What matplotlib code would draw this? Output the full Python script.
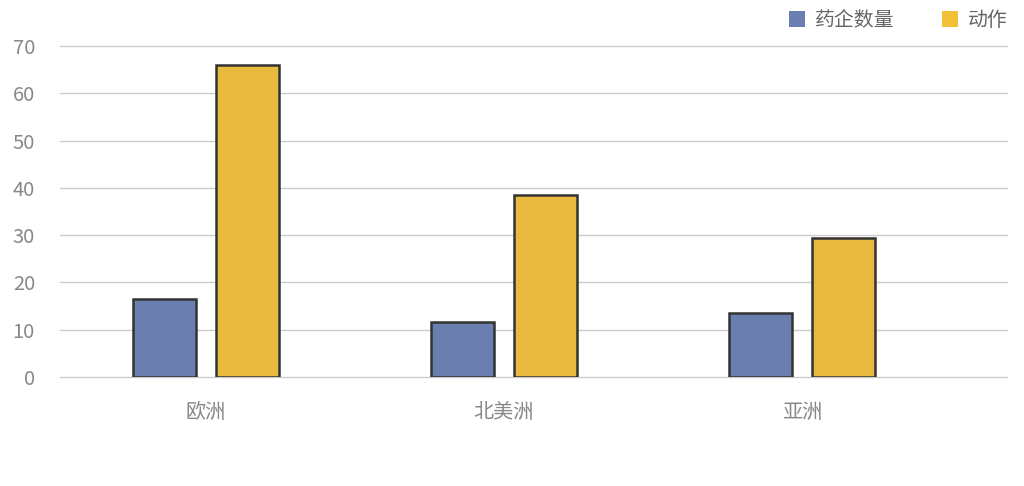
import matplotlib
matplotlib.use("Agg")
import matplotlib.pyplot as plt
import numpy as np
from matplotlib.patches import Patch

plt.rcParams['font.family'] = ['Noto Sans CJK SC', 'DejaVu Sans']

categories = ['欧洲', '北美洲', '亚洲']
series_names = ['药企数量', '动作']
companies = [16.6, 11.6, 13.5]
actions = [66, 38.5, 29.3]
yticks = [0, 10, 20, 30, 40, 50, 60, 70]

colors = ['#6a7eb0', '#e8bb40']
fig = plt.figure(figsize=(10.24, 4.86), dpi=100)
ax = fig.add_axes([60/1024, 1-377/486, (1007-60)/1024, (377-46)/486])

x = np.arange(len(categories))
w = 0.211
ax.bar(x - 0.1405, companies, width=w, color=colors[0], edgecolor='#333333',
       linewidth=1.8, label=series_names[0], zorder=3)
ax.bar(x + 0.1405, actions, width=w, color=colors[1], edgecolor='#333333',
       linewidth=1.8, label=series_names[1], zorder=3)

ax.set_xlim(-0.49, 2.688)
ax.set_ylim(0, 70)
ax.set_yticks(yticks)
ax.set_xticks(x)
ax.set_xticklabels(categories)
ax.tick_params(axis='both', length=0, colors='#888888', labelsize=14.5)
ax.tick_params(axis='y', pad=18)
ax.tick_params(axis='x', pad=18)
for s in ax.spines.values():
    s.set_visible(False)
ax.yaxis.grid(True, color='#cccccc', linewidth=1, zorder=0)
ax.set_axisbelow(True)
for gl in ax.get_ygridlines():
    gl.set_clip_on(False)

handles = [Patch(facecolor=colors[0], edgecolor='none'), Patch(facecolor='#f2c037', edgecolor='none')]
leg = fig.legend(handles, series_names, loc='upper right', bbox_to_anchor=(1018/1024, 1.0),
                 ncol=2, frameon=False, fontsize=14.3, handlelength=0.85, handleheight=0.85,
                 handletextpad=0.5, columnspacing=2.35, borderaxespad=0.1)
for t in leg.get_texts():
    t.set_color('#666666')

fig.savefig('out.png', dpi=100)
